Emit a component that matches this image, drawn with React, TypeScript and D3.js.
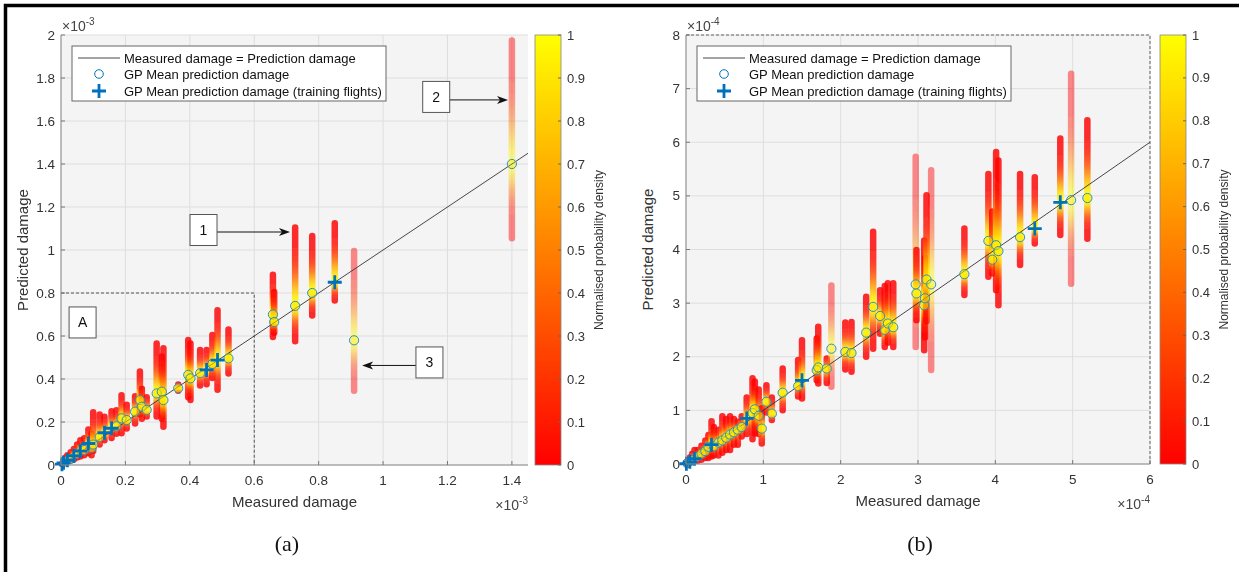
import React from 'react';
import * as d3 from 'd3';

// [measured, GP mean prediction, lower, upper, faded(0/1), training(0/1)]
type Pt = [number, number, number, number, number, number];

const leftPoints: Pt[] = [
  [0.003, 0.004, 0, 0.02, 0, 1],
  [0.008, 0.01, 0, 0.035, 0, 1],
  [0.014, 0.016, 0, 0.05, 0, 0],
  [0.02, 0.022, 0.003, 0.06, 0, 1],
  [0.03, 0.028, 0.008, 0.075, 0, 0],
  [0.04, 0.042, 0.012, 0.09, 0, 1],
  [0.05, 0.052, 0.02, 0.11, 0, 0],
  [0.06, 0.065, 0.025, 0.13, 0, 1],
  [0.072, 0.07, 0.03, 0.14, 0, 0],
  [0.085, 0.1, 0.04, 0.18, 0, 1],
  [0.095, 0.08, 0.03, 0.16, 0, 0],
  [0.1, 0.095, 0.05, 0.26, 0, 0],
  [0.12, 0.13, 0.08, 0.25, 0, 0],
  [0.135, 0.15, 0.1, 0.24, 0, 1],
  [0.157, 0.171, 0.11, 0.265, 0, 1],
  [0.172, 0.18, 0.13, 0.27, 0, 0],
  [0.188, 0.217, 0.132, 0.34, 0, 0],
  [0.204, 0.209, 0.155, 0.295, 0, 0],
  [0.23, 0.248, 0.178, 0.335, 0, 0],
  [0.245, 0.302, 0.22, 0.45, 0, 0],
  [0.251, 0.271, 0.2, 0.37, 0, 0],
  [0.266, 0.256, 0.21, 0.33, 0, 0],
  [0.297, 0.333, 0.21, 0.58, 0, 0],
  [0.313, 0.341, 0.2, 0.52, 0, 0],
  [0.318, 0.302, 0.163, 0.558, 0, 0],
  [0.364, 0.357, 0.33, 0.39, 0, 0],
  [0.395, 0.419, 0.3, 0.597, 0, 0],
  [0.402, 0.403, 0.287, 0.58, 0, 0],
  [0.432, 0.427, 0.355, 0.55, 0, 0],
  [0.452, 0.442, 0.36, 0.55, 0, 1],
  [0.47, 0.47, 0.39, 0.62, 0, 0],
  [0.486, 0.488, 0.335, 0.735, 0, 1],
  [0.52, 0.496, 0.41, 0.645, 0, 0],
  [0.658, 0.7, 0.58, 0.9, 0, 0],
  [0.662, 0.665, 0.6, 0.82, 0, 0],
  [0.727, 0.74, 0.56, 1.12, 0, 0],
  [0.78, 0.8, 0.68, 1.08, 0, 0],
  [0.85, 0.85, 0.75, 1.14, 0, 1],
  [0.91, 0.58, 0.33, 1.01, 1, 0],
  [1.4, 1.4, 1.04, 1.99, 1, 0],
];

const rightPoints: Pt[] = [
  [0.005, 0.005, 0, 0.05, 0, 1],
  [0.02, 0.02, 0, 0.1, 0, 0],
  [0.05, 0.04, 0, 0.18, 0, 1],
  [0.08, 0.07, 0, 0.25, 0, 0],
  [0.11, 0.1, 0, 0.32, 0, 1],
  [0.15, 0.14, 0, 0.32, 0, 0],
  [0.2, 0.19, 0.02, 0.4, 0, 0],
  [0.25, 0.24, 0.05, 0.5, 0, 0],
  [0.29, 0.32, 0.05, 0.6, 0, 0],
  [0.33, 0.36, 0.08, 0.86, 0, 1],
  [0.36, 0.33, 0.1, 0.75, 0, 0],
  [0.42, 0.4, 0.1, 0.7, 0, 0],
  [0.47, 0.44, 0.15, 0.95, 0, 0],
  [0.52, 0.49, 0.2, 0.9, 0, 0],
  [0.57, 0.55, 0.2, 0.95, 0, 0],
  [0.62, 0.59, 0.3, 0.9, 0, 0],
  [0.67, 0.64, 0.3, 0.85, 0, 0],
  [0.72, 0.69, 0.45, 0.95, 0, 0],
  [0.785, 0.85, 0.5, 1.3, 0, 1],
  [0.86, 0.95, 0.4, 1.66, 0, 0],
  [0.89, 1.02, 0.51, 1.6, 0, 0],
  [0.94, 0.9, 0.5, 1.45, 0, 0],
  [0.98, 0.66, 0.32, 1.1, 0, 0],
  [1.04, 1.16, 0.9, 1.53, 0, 0],
  [1.11, 0.94, 0.76, 1.3, 0, 0],
  [1.25, 1.33, 0.94, 1.84, 0, 0],
  [1.45, 1.45, 1.2, 2.0, 0, 0],
  [1.5, 1.56, 1.16, 2.37, 0, 1],
  [1.69, 1.75, 1.5, 2.4, 0, 0],
  [1.71, 1.8, 1.44, 2.62, 0, 0],
  [1.82, 1.78, 1.45, 2.03, 0, 0],
  [1.88, 2.15, 1.38, 3.39, 1, 0],
  [2.06, 2.09, 1.7, 2.7, 0, 0],
  [2.14, 2.07, 1.66, 2.71, 0, 0],
  [2.33, 2.45, 1.94, 3.18, 0, 0],
  [2.42, 2.93, 2.09, 4.39, 0, 0],
  [2.51, 2.76, 2.37, 3.3, 0, 0],
  [2.57, 2.5, 2.12, 3.38, 0, 0],
  [2.61, 2.62, 2.2, 3.43, 0, 0],
  [2.68, 2.55, 2.12, 3.43, 0, 0],
  [2.97, 3.35, 2.12, 5.79, 1, 0],
  [2.98, 3.18, 2.62, 4.05, 0, 0],
  [3.08, 2.96, 2.06, 4.23, 0, 0],
  [3.09, 3.09, 2.3, 3.9, 0, 0],
  [3.11, 3.44, 2.6, 5.07, 0, 0],
  [3.17, 3.35, 1.69, 5.54, 1, 0],
  [3.6, 3.54, 3.09, 4.45, 0, 0],
  [3.91, 4.16, 3.43, 5.47, 0, 0],
  [3.96, 3.81, 3.49, 4.77, 0, 0],
  [4.01, 4.08, 3.18, 5.88, 0, 0],
  [4.04, 3.97, 2.9, 5.72, 0, 0],
  [4.32, 4.23, 3.65, 5.47, 0, 0],
  [4.51, 4.39, 4.05, 5.41, 0, 1],
  [4.84, 4.88, 4.21, 6.13, 0, 1],
  [4.98, 4.92, 3.3, 7.34, 1, 0],
  [5.19, 4.96, 4.14, 6.47, 0, 0],
];

const leftXTicks = [0, 0.2, 0.4, 0.6, 0.8, 1, 1.2, 1.4];
const leftYTicks = [0, 0.2, 0.4, 0.6, 0.8, 1, 1.2, 1.4, 1.6, 1.8, 2];
const rightXTicks = [0, 1, 2, 3, 4, 5, 6];
const rightYTicks = [0, 1, 2, 3, 4, 5, 6, 7, 8];
const colorTicks = [0, 0.1, 0.2, 0.3, 0.4, 0.5, 0.6, 0.7, 0.8, 0.9, 1];
const legendLabels = [
  'Measured damage = Prediction damage',
  'GP Mean prediction damage',
  'GP Mean prediction damage (training flights)',
];
// annotation boxes: [label, x, y, arrowToX] in data units (arrowToX null => none)
const leftNotes: [string, number, number, number | null][] = [
  ['1', 0.4425, 1.093, 0.711],
  ['2', 1.165, 1.712, 1.388],
  ['3', 1.144, 0.477, 0.935],
  ['A', 0.067, 0.663, null],
];

const SANS = "'Liberation Sans', Arial, Helvetica, sans-serif";
const BLUE = '#0072BD';
const autumn = d3.interpolateRgb('#ff0000', '#ffff00');

interface PanelProps {
  id: string;
  points: Pt[];
  xDomain: [number, number];
  yDomain: [number, number];
  xRange: [number, number];
  yRange: [number, number];
  xTicks: number[];
  yTicks: number[];
  exponent: string;
  cbX: number;
  dashedBox: 'region' | 'edges';
  notes: [string, number, number, number | null][];
}

function density(v: number, p: Pt) {
  const [, m, lo, hi] = p;
  const d = v >= m ? (v - m) / Math.max(hi - m, 1e-9) : (m - v) / Math.max(m - lo, 1e-9);
  return Math.exp(-7 * d * d);
}

function Arrow({ x1, x2, y }: { x1: number; x2: number; y: number }) {
  const dir = x2 > x1 ? 1 : -1;
  const L = 11;
  const W = 4;
  const pts = [
    [x2, y],
    [x2 - dir * L, y - W],
    [x2 - dir * (L - 3), y],
    [x2 - dir * L, y + W],
  ];
  return (
    <g>
      <line x1={x1} x2={x2 - dir * 6} y1={y} y2={y} stroke="#111" strokeWidth={1} />
      <polygon points={pts.map((p) => p.join(',')).join(' ')} fill="#111" />
    </g>
  );
}

function Panel(props: PanelProps) {
  const { id, points, xDomain, yDomain, xRange, yRange, xTicks, yTicks, exponent, cbX, dashedBox, notes } = props;
  const x = d3.scaleLinear().domain(xDomain).range(xRange);
  const y = d3.scaleLinear().domain(yDomain).range(yRange);
  const [x0, x1] = xRange;
  const [yb, yt] = yRange;
  const cb = d3.scaleLinear().domain([0, 1]).range([yb, yt]);
  const barW = 6.5;
  const lineMax = Math.min(xDomain[1], yDomain[1]);
  const lx = x0 + 11;
  const legendTop = yt + 11;

  return (
    <g>
      <defs>
        <filter id={`blur-${id}`} x="-50%" y="-10%" width="200%" height="120%">
          <feGaussianBlur stdDeviation="0.7" />
        </filter>
        {points.map((p, i) => {
          const stops = d3.range(0, 21).map((k) => {
            const t = k / 20;
            const v = p[3] - t * (p[3] - p[2]);
            return { t, c: autumn(density(v, p)) };
          });
          return (
            <linearGradient key={i} id={`g-${id}-${i}`} gradientUnits="userSpaceOnUse" x1={0} x2={0} y1={y(p[3])} y2={y(p[2])}>
              {stops.map((s, k) => (
                <stop key={k} offset={s.t} stopColor={s.c} />
              ))}
            </linearGradient>
          );
        })}
        <linearGradient id={`cb-${id}`} x1="0" x2="0" y1="1" y2="0">
          <stop offset="0" stopColor="#ff0000" />
          <stop offset="1" stopColor="#ffff00" />
        </linearGradient>
      </defs>

      {/* axes background */}
      <rect x={x0} y={yt} width={x1 - x0} height={yb - yt} fill="#f4f4f4" />
      {/* grid */}
      {xTicks.map((t) => (
        <line key={`gx${t}`} x1={x(t)} x2={x(t)} y1={yt} y2={yb} stroke="#dedede" strokeWidth={1} />
      ))}
      {yTicks.map((t) => (
        <line key={`gy${t}`} x1={x0} x2={x1} y1={y(t)} y2={y(t)} stroke="#dedede" strokeWidth={1} />
      ))}

      {/* dashed region */}
      {dashedBox === 'region' ? (
        <path
          d={`M${x(0)},${y(0.8)}H${x(0.6)}V${y(0)}`}
          fill="none"
          stroke="#444"
          strokeWidth={0.9}
          strokeDasharray="3,2"
        />
      ) : (
        <path d={`M${x0},${yt}H${x1}V${yb}`} fill="none" stroke="#555" strokeWidth={0.9} strokeDasharray="3,2" />
      )}

      {/* density bars */}
      <g filter={`url(#blur-${id})`}>
        {points.map((p, i) => (
          <rect
            key={i}
            x={x(p[0]) - barW / 2}
            width={barW}
            y={y(p[3])}
            height={Math.max(y(p[2]) - y(p[3]), barW)}
            rx={barW / 2}
            fill={`url(#g-${id}-${i})`}
            opacity={p[4] ? 0.45 : 0.82}
          />
        ))}
      </g>

      {/* identity line */}
      <line x1={x(0)} y1={y(0)} x2={x(lineMax)} y2={y(lineMax)} stroke="#333" strokeWidth={0.9} />

      {/* GP mean circles */}
      {points
        .filter((p) => !p[5])
        .map((p, i) => (
          <circle
            key={i}
            cx={x(p[0])}
            cy={y(p[1])}
            r={4.6}
            fill="#ffe600"
            fillOpacity={p[4] ? 0.25 : 0.55}
            stroke="#2f8fb8"
            strokeWidth={1}
          />
        ))}
      {/* training plus */}
      {points
        .filter((p) => p[5])
        .map((p, i) => {
          const cx = x(p[0]);
          const cy = y(p[1]);
          return (
            <path key={i} d={`M${cx - 7},${cy}H${cx + 7}M${cx},${cy - 7}V${cy + 7}`} stroke={BLUE} strokeWidth={2.8} />
          );
        })}

      {/* axes lines + ticks */}
      <line x1={x0} x2={x0} y1={yt} y2={yb} stroke="#8a8a8a" strokeWidth={1} />
      <line x1={x0} x2={x1} y1={yb} y2={yb} stroke="#8a8a8a" strokeWidth={1} />
      {xTicks.map((t) => (
        <g key={`tx${t}`}>
          <line x1={x(t)} x2={x(t)} y1={yb} y2={yb - 4} stroke="#777" />
          <text x={x(t)} y={yb + 20} textAnchor="middle" fontSize={13.5} fill="#333" fontFamily={SANS}>
            {String(t)}
          </text>
        </g>
      ))}
      {yTicks.map((t) => (
        <g key={`ty${t}`}>
          <line x1={x0} x2={x0 + 4} y1={y(t)} y2={y(t)} stroke="#777" />
          <text x={x0 - 6} y={y(t) + 4.5} textAnchor="end" fontSize={13.5} fill="#333" fontFamily={SANS}>
            {String(t)}
          </text>
        </g>
      ))}
      {/* exponents */}
      <text x={x0 + 1} y={yt - 4} fontSize={14} fill="#444" fontFamily={SANS}>
        ×10
        <tspan fontSize={10} dy={-6}>
          {exponent}
        </tspan>
      </text>
      <text x={x1} y={yb + 45} fontSize={14} fill="#444" fontFamily={SANS} textAnchor="end">
        ×10
        <tspan fontSize={10} dy={-6}>
          {exponent}
        </tspan>
      </text>

      {/* axis labels */}
      <text x={(x0 + x1) / 2} y={yb + 42} textAnchor="middle" fontSize={15} fill="#333" fontFamily={SANS}>
        Measured damage
      </text>
      <text
        transform={`translate(${x0 - 33},${(yt + yb) / 2}) rotate(-90)`}
        textAnchor="middle"
        fontSize={15}
        fill="#333"
        fontFamily={SANS}
      >
        Predicted damage
      </text>

      {/* legend */}
      <rect x={lx} y={legendTop} width={314} height={55} fill="#fff" stroke="#666" strokeWidth={1} />
      <line x1={lx + 6} x2={lx + 48} y1={legendTop + 12} y2={legendTop + 12} stroke="#333" strokeWidth={0.9} />
      <circle cx={lx + 27} cy={legendTop + 28} r={4.3} fill="none" stroke={BLUE} strokeWidth={1} />
      <path
        d={`M${lx + 20},${legendTop + 45}H${lx + 34}M${lx + 27},${legendTop + 38}V${legendTop + 52}`}
        stroke={BLUE}
        strokeWidth={2.8}
      />
      {legendLabels.map((l, i) => (
        <text key={l} x={lx + 52} y={legendTop + 16.5 + i * 16.5} fontSize={13} fill="#111" fontFamily={SANS}>
          {l}
        </text>
      ))}

      {/* annotations */}
      {notes.map(([label, nx, ny, ax]) => {
        const cx = x(nx);
        const cy = y(ny);
        const hw = 13.5;
        const hh = 15.5;
        return (
          <g key={label}>
            {ax !== null && (
              <Arrow x1={x(ax) > cx ? cx + hw : cx - hw} x2={x(ax)} y={cy + (label === '3' ? 3 : label === '2' ? 3 : 2)} />
            )}
            <rect x={cx - hw} y={cy - hh} width={hw * 2} height={hh * 2} fill="#fff" stroke="#555" strokeWidth={1} />
            <text x={cx} y={cy + 5} textAnchor="middle" fontSize={14} fill="#111" fontFamily={SANS}>
              {label}
            </text>
          </g>
        );
      })}

      {/* colorbar */}
      <rect x={cbX} y={yt} width={26} height={yb - yt} fill={`url(#cb-${id})`} stroke="#888" strokeWidth={0.8} />
      {colorTicks.map((t) => (
        <g key={`c${t}`}>
          <line x1={cbX + 26} x2={cbX + 23} y1={cb(t)} y2={cb(t)} stroke="#666" />
          <text x={cbX + 32} y={cb(t) + 4.5} fontSize={13} fill="#333" fontFamily={SANS}>
            {String(t)}
          </text>
        </g>
      ))}
      <text
        transform={`translate(${cbX + 68},${(yt + yb) / 2}) rotate(-90)`}
        textAnchor="middle"
        fontSize={12}
        fill="#333"
        fontFamily={SANS}
      >
        Normalised probability density
      </text>
    </g>
  );
}

export default function App() {
  return (
    <svg
      width={1239}
      height={572}
      viewBox="0 0 1239 572"
      style={{ position: 'absolute', left: 0, top: 0, background: '#fff' }}
    >
      <rect x={0} y={0} width={1239} height={572} fill="#fff" />
      <Panel
        id="a"
        points={leftPoints}
        xDomain={[0, 1.45]}
        yDomain={[0, 2]}
        xRange={[61, 528]}
        yRange={[465, 35]}
        xTicks={leftXTicks}
        yTicks={leftYTicks}
        exponent="-3"
        cbX={535}
        dashedBox="region"
        notes={leftNotes}
      />
      <Panel
        id="b"
        points={rightPoints}
        xDomain={[0, 6]}
        yDomain={[0, 8]}
        xRange={[686, 1150]}
        yRange={[464, 35]}
        xTicks={rightXTicks}
        yTicks={rightYTicks}
        exponent="-4"
        cbX={1160}
        dashedBox="edges"
        notes={[]}
      />
      <text x={287} y={551} textAnchor="middle" fontSize={22} fontFamily="'Liberation Serif', 'Times New Roman', serif" fill="#111">
        (a)
      </text>
      <text x={920} y={551} textAnchor="middle" fontSize={22} fontFamily="'Liberation Serif', 'Times New Roman', serif" fill="#111">
        (b)
      </text>
      {/* outer frame (top and left) */}
      <path d="M5.5,572V5.5H1239" fill="none" stroke="#000" strokeWidth={3.5} />
    </svg>
  );
}
